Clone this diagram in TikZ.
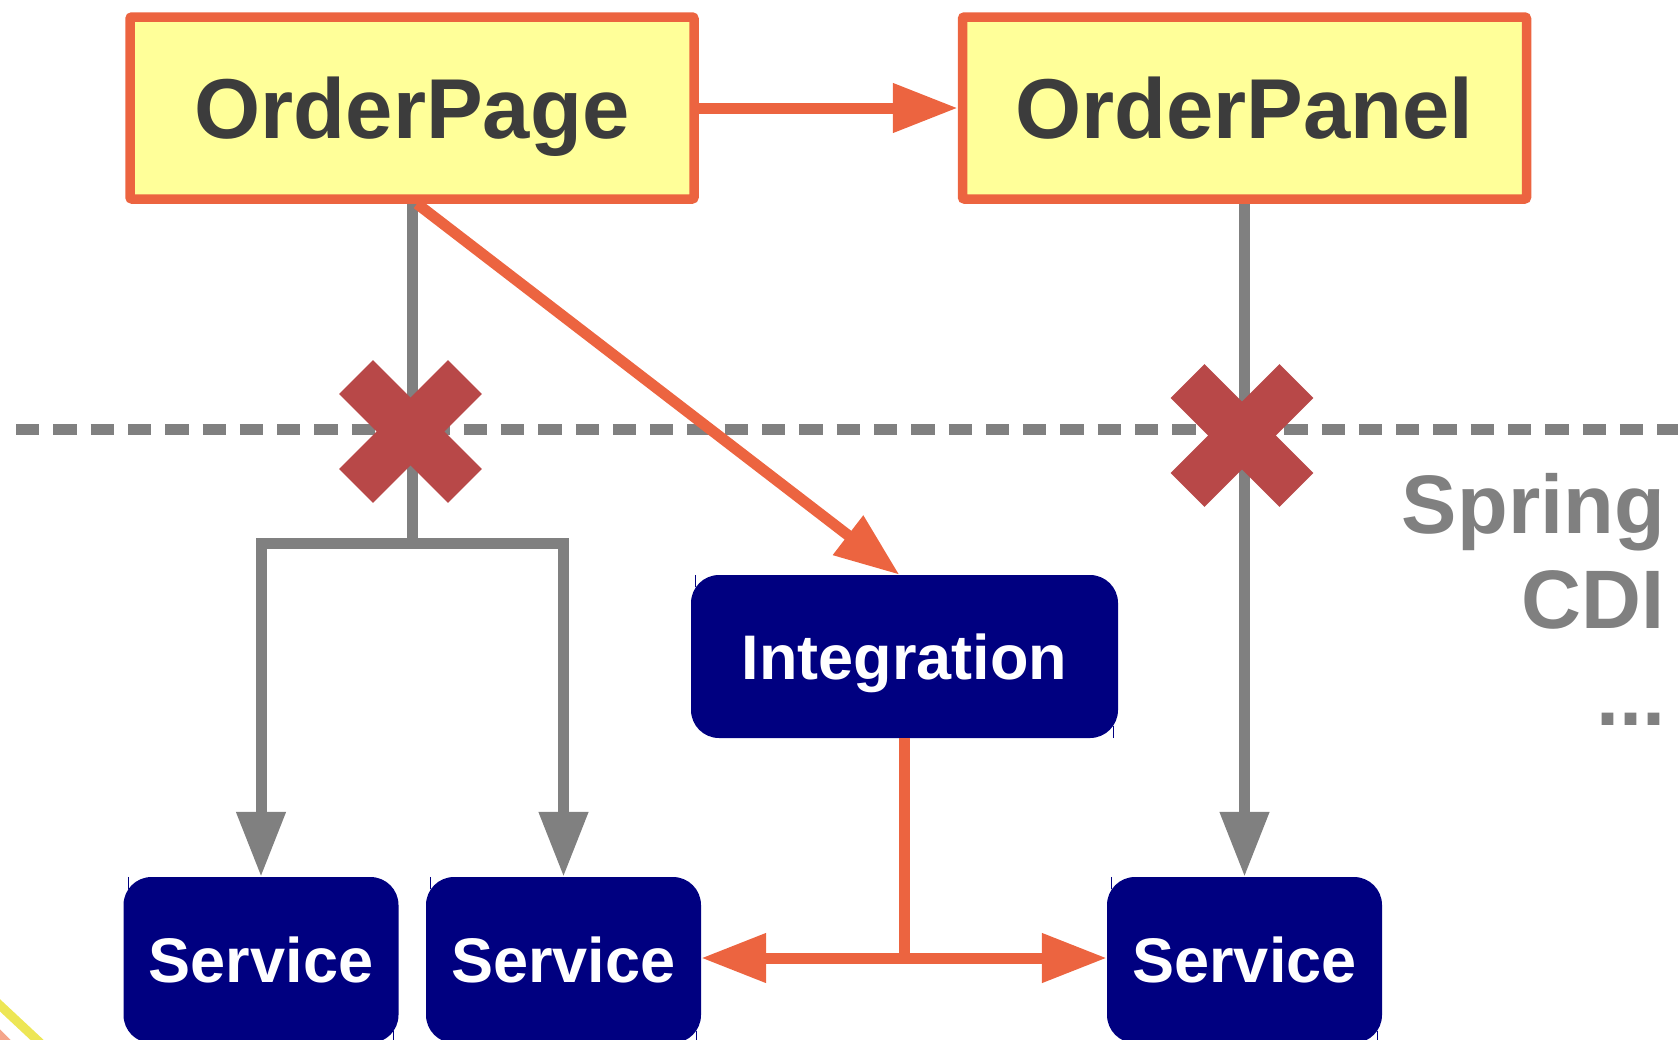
\documentclass[tikz,border=0pt]{standalone}
\usepackage{fontspec}
\setmainfont{Liberation Sans}
\usetikzlibrary{arrows.meta}

\definecolor{boxyellow}{HTML}{FFFF99}
\definecolor{accent}{HTML}{EC6440}
\definecolor{navybox}{HTML}{000080}
\definecolor{wire}{HTML}{808080}
\definecolor{inktext}{HTML}{3C3C3C}
\definecolor{crossred}{HTML}{B84848}
\definecolor{stripeyellow}{HTML}{EDE655}
\definecolor{stripesalmon}{HTML}{F4A58A}

\tikzset{
  pagebox/.style={draw=accent, line width=9.5pt, fill=boxyellow, rounded corners=2pt,
    minimum width=564pt, minimum height=182pt, inner sep=0pt, text=inktext,
    font=\fontsize{85}{100}\selectfont\bfseries, text height=61pt, text depth=0pt},
  beanbox/.style={fill=navybox, rounded corners=28pt, inner sep=0pt, text=white,
    font=\fontsize{63}{75}\selectfont\bfseries, text height=45pt, text depth=0pt},
  servicebox/.style={beanbox, minimum width=275pt, minimum height=166pt},
  sidelabel/.style={anchor=base east, inner sep=0pt, text=wire,
    font=\fontsize{83}{96}\selectfont\bfseries},
  orangeline/.style={draw=accent, line width=11pt},
  grayline/.style={draw=wire, line width=11pt},
  tipped/.style={-{Triangle[length=65pt,width=47pt]}},
  cornertick/.style={draw=navybox, line width=1.2pt},
  boundary/.style={draw=wire, line width=11pt, dash pattern=on 23.3pt off 14pt},
}

\begin{document}
\begin{tikzpicture}[x=1pt, y=-1pt]
  \useasboundingbox (0,0) rectangle (1678,1039);

  % stray strokes in the lower left corner
  \draw[stripeyellow, line width=9pt] (-10,996) -- (50,1052);
  \draw[stripesalmon, line width=8pt] (-10,1025) -- (12,1047);

  % web layer
  \node[pagebox] (OrderPage)  at (412,108)    {OrderPage};
  \node[pagebox] (OrderPanel) at (1244.5,108) {OrderPanel};

  % beans
  \node[beanbox, minimum width=427pt, minimum height=163pt] (Integration) at (904.5,656.5) {Integration};
  \node[servicebox] (ServiceA) at (261,960)    {Service};
  \node[servicebox] (ServiceB) at (563.5,960)  {Service};
  \node[servicebox] (ServiceC) at (1244.5,960) {Service};

  % corner ticks of the bean boxes
  \foreach \b in {Integration, ServiceA, ServiceB, ServiceC} {
    \draw[cornertick] ([xshift=5pt]\b.north west) -- ++(0,12);
    \draw[cornertick] ([xshift=-5pt]\b.south east) -- ++(0,-12);
  }

  % layer boundary
  \coordinate (lineStart) at (16,429.5);
  \coordinate (lineEnd)   at (1690,429.5);
  \draw[boundary] (lineStart) -- (lineEnd);

  % direct wiring, crossed out
  \coordinate (fork) at (412,543);
  \draw[grayline] (OrderPage.south) -- (fork);
  \draw[grayline, tipped] (fork) -| (ServiceA.north);
  \draw[grayline, tipped] (fork) -| (ServiceB.north);
  \draw[grayline, tipped] (OrderPanel.south) -- (ServiceC.north);

  \foreach \cx/\cy in {410.5/431.5, 1242/435.5} {
    \begin{scope}[shift={(\cx,\cy)}]
      \fill[crossred, rotate=45]  (-77,-24) rectangle (77,24);
      \fill[crossred, rotate=-45] (-77,-24) rectangle (77,24);
    \end{scope}
  }

  % wiring through the integration bean
  \draw[orangeline, tipped] (OrderPage) -- (OrderPanel);
  \draw[orangeline, tipped] ([xshift=5pt]OrderPage.south) -- ([xshift=-5pt]Integration.north);
  \coordinate (split) at (904.5,958);
  \draw[orangeline] (Integration.south) -- (split);
  \draw[orangeline, tipped] (split) -- (split -| ServiceB.east);
  \draw[orangeline, tipped] (split) -- (split -| ServiceC.west);

  % container label
  \node[sidelabel] (labelSpring) at (1665,533) {Spring};
  \node[sidelabel] (labelCDI)    at (1665,628) {CDI};
  \node[sidelabel] (labelDots)   at (1666,725) {...};
\end{tikzpicture}
\end{document}
